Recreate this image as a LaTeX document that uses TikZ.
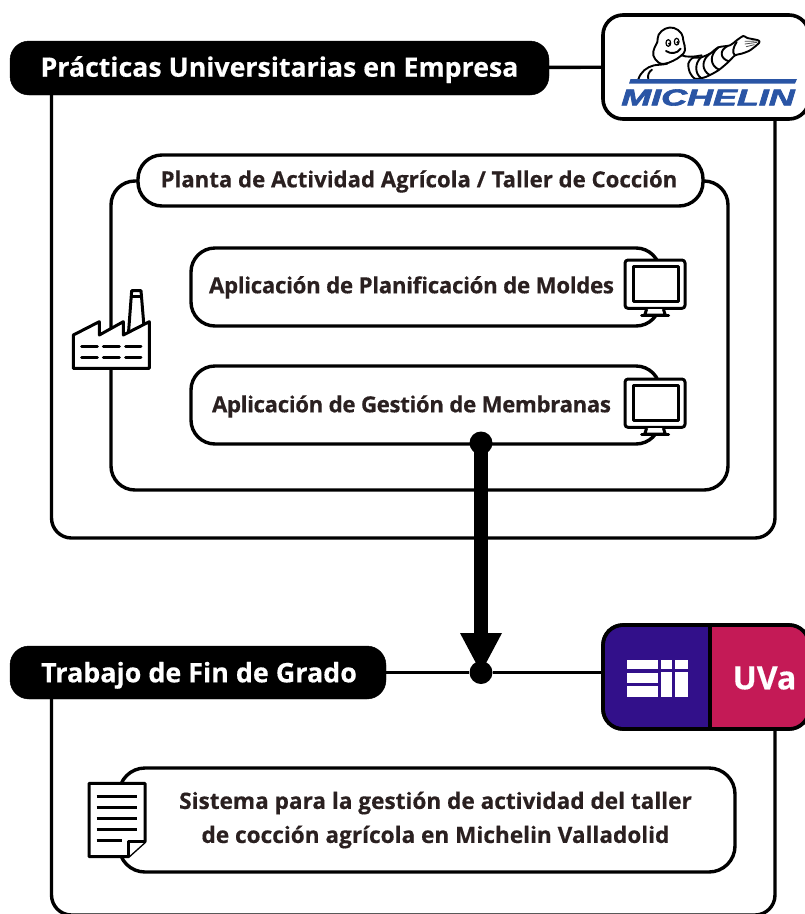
\documentclass[tikz,border=0pt]{standalone}
\usepackage{fontspec}
\setmainfont{Open Sans}[BoldFeatures={FakeBold=0.4}]
\newfontfamily\logofont{Liberation Sans}[BoldItalicFeatures={FakeBold=2.5}]
\definecolor{ink}{HTML}{2A2020}
\definecolor{eiiblue}{HTML}{32108A}
\definecolor{uvared}{HTML}{C41A56}
\definecolor{michblue}{HTML}{2A55A5}
\newcommand{\fs}[1]{\bfseries\fontsize{#1}{34}\selectfont}
\newcommand{\lowered}[2]{\raisebox{-#1pt}[0pt][0pt]{#2}}
\tikzset{
  frameline/.style={line width=3.4pt,black,line join=round},
  titlepill/.style={fill=black,draw=black,rounded corners=19pt,inner sep=0pt,text=white},
  whitebox/.style={fill=white,draw=black,line width=3.4pt,rounded corners=24pt,inner sep=0pt,text=ink,align=center},
  logobox/.style={fill=white,draw=black,line width=3.6pt,rounded corners=20pt,inner sep=0pt},
  icon/.style={line width=3pt,black,line join=round,fill=white},
  iconline/.style={line width=3pt,black},
  dotnode/.style={circle,fill=black,inner sep=0pt,minimum size=23pt},
  bib/.style={line width=1.9pt,black,line join=round,line cap=round},
  finger/.style={line width=0.8pt,black!70,line cap=round}
}
\newcommand{\monitor}[2]{%
  \begin{scope}[shift={(#1,#2)},scale=1/3]
    \draw[icon,rounded corners=3pt] (45,30) rectangle (225,175);
    \draw[icon] (70,50) rectangle (205,155);
    \draw[icon] (110,177) -- (104,195) -- (166,195) -- (160,177);
    \draw[iconline,line cap=round] (95,197) -- (176,197);
  \end{scope}}
\begin{document}
\begin{tikzpicture}[x=1pt,y=-1pt]
\useasboundingbox (0,0) rectangle (805,914);
\clip (0,0) rectangle (805,914);
\fill[white] (0,0) rectangle (805,914);
% outer frames
\coordinate (f1a) at (51.5,90);
\coordinate (f1b) at (775,115);
\draw[frameline,rounded corners=20pt] (f1a) -- (51.5,538) -- (775,538) -- (f1b);
\coordinate (f2a) at (51.5,690);
\coordinate (f2b) at (775,725);
\draw[frameline,rounded corners=20pt] (f2a) -- (51.5,915) -- (775,915) -- (f2b);
% title nodes
\node[titlepill,minimum width=539pt,minimum height=54pt,font=\fs{26.7}] (title1) at (279.5,68) {\lowered{8.7}{Prácticas Universitarias en Empresa}};
\node[logobox,minimum width=206pt,minimum height=104pt] (michelin) at (706,67) {};
\draw[frameline] (title1) -- (michelin);
% plant box
\node[whitebox,minimum width=617pt,minimum height=309pt] (plant) at (419.5,335.5) {};
\node[whitebox,minimum width=565pt,minimum height=51pt,font=\fs{22.2}] (planttitle) at (420.5,180.5) {\hspace*{-3pt}\lowered{6.8}{Planta de Actividad Agrícola / Taller de Cocción}};
\node[whitebox,minimum width=469pt,minimum height=78pt,font=\fs{22.3}\addfontfeature{LetterSpace=-1.5}] (moldes) at (425.5,287) {\hspace*{-28pt}\lowered{6.3}{Aplicación de Planificación de Moldes}};
\node[whitebox,minimum width=469pt,minimum height=78pt,font=\fs{22.2}\addfontfeature{LetterSpace=-1.5}] (membranas) at (425.5,405) {\hspace*{-28pt}\lowered{7.3}{Aplicación de Gestión de Membranas}};
\monitor{610}{250}
\monitor{610}{369}
% factory
\begin{scope}[shift={(60,280)},scale=1/3]
  \draw[icon] (205,165) -- (215,32) -- (243,32) -- (252,140);
  \draw[iconline] (212,50) -- (246,50);
  \draw[icon] (40,265) -- (40,165) -- (118,125) -- (118,165) -- (190,125) -- (190,165) -- (268,125) -- (268,265) -- cycle;
  \foreach \yy in {200,232} {
    \draw[iconline,line cap=round] (65,\yy) -- (112,\yy);
    \draw[iconline,line cap=round] (130,\yy) -- (178,\yy);
    \draw[iconline,line cap=round] (197,\yy) -- (243,\yy);
  }
\end{scope}
% second block
\node[titlepill,minimum width=376pt,minimum height=53pt,font=\fs{26.9}] (title2) at (198,672.5) {\hspace*{2pt}\lowered{9.8}{Trabajo de Fin de Grado}};
\node[logobox,minimum width=206pt,minimum height=104pt,fill=eiiblue] (uva) at (706,677) {};
\node[dotnode] (dotB) at (481,672.5) {};
\draw[frameline] (title2) -- (dotB);
\draw[frameline] (dotB) -- (uva.west |- dotB);
\begin{scope}
  \clip[rounded corners=20pt] (603,625) rectangle (809,729);
  \fill[uvared] (710,625) rectangle (809,729);
\end{scope}
\draw[line width=3.6pt,black,rounded corners=20pt] (603,625) rectangle (809,729);
\coordinate (splitTop) at (710,625);
\coordinate (splitBot) at (710,729);
\draw[line width=3.6pt,black] (splitTop) -- (splitBot);
% EII logo
\begin{scope}[shift={(590,615)},scale=1/3]
  \fill[white] (112,135) rectangle (205,162);
  \fill[white] (112,174) rectangle (205,204);
  \fill[white] (112,214) rectangle (205,245);
  \fill[white] (214,135) rectangle (246,162);
  \fill[white] (255,135) rectangle (293,162);
  \fill[white] (214,172) rectangle (246,245);
  \fill[white] (255,172) rectangle (293,245);
\end{scope}
\node[text=white,font=\fs{32},inner sep=0pt] (uvatext) at (764.5,678) {UVa};
% document box
\node[whitebox,minimum width=616pt,minimum height=104pt,rounded corners=26pt,font=\fs{22.6}] (sistema) at (427,820) {\hspace*{17pt}Sistema para la gestión de actividad del taller\\[0pt]\hspace*{17pt}de cocción agrícola en Michelin Valladolid};
\begin{scope}[shift={(75,770)},scale=1/3]
  \draw[icon] (42,40) -- (210,40) -- (210,215) -- (160,260) -- (42,260) -- cycle;
  \draw[icon] (160,260) -- (160,215) -- (210,215);
  \foreach \yy in {78,111,144,177} \draw[iconline] (65,\yy) -- (185,\yy);
  \draw[iconline] (65,210) -- (142,210);
\end{scope}
% arrow
\node[dotnode] (dotA) at (481,443) {};
\draw[line width=14pt,black] (dotA.center) -- (481,640);
\coordinate (headL) at (460,633);
\coordinate (headR) at (502,633);
\fill[black] (headL) -- (headR) -- (dotB.center) -- cycle;
% Michelin logo: figure
\begin{scope}[shift={(630,22)},scale=1/3]
  \draw[bib] (25,172) .. controls (32,150) and (50,135) .. (72,130) .. controls (85,128) and (100,128) .. (112,125);
  \draw[bib] (55,172) .. controls (52,160) and (56,150) .. (66,143);
  \draw[bib] (155,100) .. controls (170,106) and (190,105) .. (215,100);
  \draw[bib,fill=white] plot[smooth cycle,tension=0.7] coordinates {(86,122) (70,100) (74,76) (82,60) (86,38) (106,20) (132,18) (154,34) (160,56) (165,85) (152,102) (130,116) (105,125)};
  \draw[line width=1.2pt,black,fill=white] (115,63) ellipse (7 and 10);
  \draw[line width=1.2pt,black,fill=white] (140,59) ellipse (7 and 10);
  \fill[black] (118,65) circle (4);
  \fill[black] (143,61) circle (4);
  \draw[bib] (108,87) .. controls (122,97) and (142,95) .. (152,80);
\end{scope}
\begin{scope}[shift={(685,22)},scale=1/3]
  \draw[bib,fill=white] plot[smooth cycle,tension=0.45] coordinates {(22,108) (48,106) (75,95) (100,76) (135,70) (155,55) (175,42) (187,48) (220,55) (222,63) (195,85) (170,95) (150,100) (130,120) (100,145) (62,165) (30,170) (14,150) (10,125)};
  \draw[bib] (48,106) .. controls (28,125) and (30,155) .. (48,168);
  \draw[bib] (75,95) .. controls (48,115) and (50,145) .. (74,159);
  \draw[bib] (100,76) .. controls (72,100) and (75,130) .. (102,143);
  \draw[bib] (128,72) .. controls (102,85) and (105,110) .. (132,118);
  \draw[bib] (150,100) .. controls (140,92) and (145,75) .. (155,60);
  \draw[finger] (180,58) -- (217,57);
  \draw[finger] (180,66) -- (216,61);
  \draw[finger] (184,74) -- (208,68);
\end{scope}
\fill[michblue] (630.5,79) -- (797,79) -- (795,83.5) -- (629,83.5) -- cycle;
\node[inner sep=0pt,text=michblue,font=\logofont\fontsize{23}{26}\selectfont\bfseries\itshape,xscale=1.56] (michelintext) at (708,97.5) {MICHELIN};
\end{tikzpicture}
\end{document}
